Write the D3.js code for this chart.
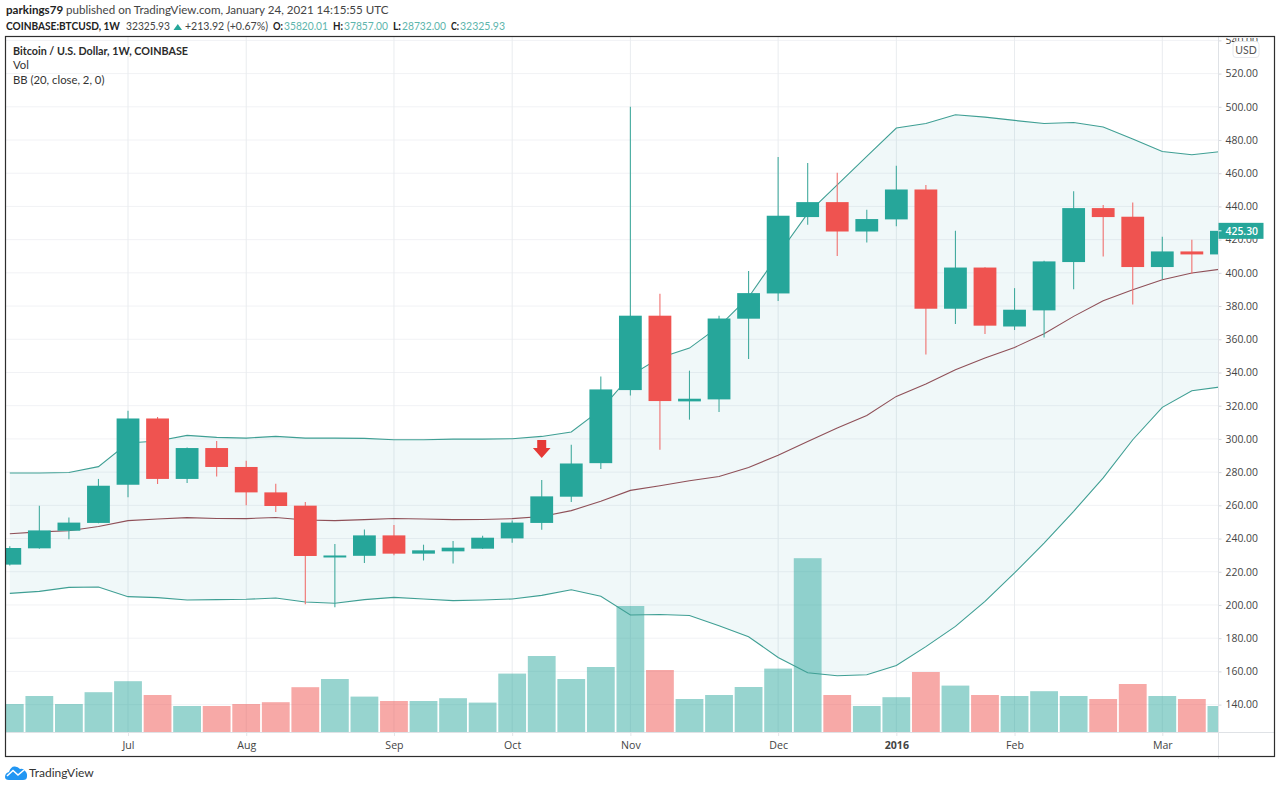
<!DOCTYPE html>
<html>
<head>
<meta charset="utf-8">
<script src="https://cdn.jsdelivr.net/npm/d3@7/dist/d3.min.js"></script>
<style>
html,body{margin:0;padding:0;background:#fff;overflow:hidden}
svg{display:block}
text{font-family:"Lato","Noto Sans",sans-serif}
.ax text{font-family:"Open Sans",sans-serif}
</style>
</head>
<body>
<svg id="c" width="1280" height="788"></svg>
<script>
const open  = [224.3,234.1,244.7,249.4,272.4,312.3,275.9,294.5,283.1,267.8,259.8,229.5,229.6,241.9,230.9,232.3,233.9,240.1,249.4,265.2,285.4,329.4,374.2,322.6,323.8,372.4,387.6,433.6,442.6,424.9,432.2,450.2,378.4,403.2,367.7,377.4,406.5,439.0,433.8,403.5,412.9,411.1];
const close = [234.3,244.9,249.6,271.8,312.3,275.9,294.5,283.1,267.8,259.6,229.5,229.8,241.9,230.9,232.9,234.5,240.5,249.6,265.4,285.2,329.8,374.2,322.8,324.2,372.5,387.8,434.4,442.6,424.9,432.4,450.2,378.4,403.2,368.2,377.8,406.9,439.0,433.6,403.5,412.9,411.1,425.3];
const high  = [235.3,259.8,252.6,275.9,317.0,313.2,294.9,298.7,286.9,273.0,262.0,236.7,245.5,248.2,236.3,238.5,241.7,250.8,275.3,296.5,337.6,500.0,387.4,341.1,374.2,401.1,469.7,466.1,460.3,438.0,464.5,452.9,425.3,403.4,390.8,407.3,449.2,440.8,442.4,421.7,419.9,425.3];
const low   = [223.8,233.8,239.5,249.2,264.8,272.8,273.4,277.4,260.0,256.0,200.4,198.6,225.3,229.9,226.8,224.9,233.7,237.5,245.3,262.0,281.9,326.2,293.5,311.6,316.2,348.1,383.0,429.0,410.1,418.3,428.0,350.9,369.2,363.2,365.6,361.1,390.2,409.9,381.0,396.3,399.5,411.1];
const volume = [14,18,14,19.9,25.4,18.5,13,13,14,14.9,22.4,26.5,17.7,15.5,15.5,16.9,14.7,29.2,38,26.5,32.5,63,31,16.5,18.5,22.5,31.7,86.9,18.5,13,17.4,30,23.2,18.5,18,20.4,18,16.5,24,18,16.5,13];
const bbUpper  = [279.5,279.5,279.8,283.3,297.5,298.7,302.1,300.9,300.5,301.5,300.5,300.5,300.3,299.5,299.5,299.9,299.9,300.1,301.5,304.2,317.6,338.1,348.9,354.7,367.8,385.3,410.9,435.8,453.0,470.2,487.2,489.9,495.2,493.8,491.8,489.9,490.5,487.8,480.6,473.1,471.1,473.1];
const bbMiddle = [242.9,244.0,244.7,247.3,250.8,251.8,252.6,252.1,252.0,252.7,251.2,250.8,251.4,252.1,251.8,251.4,251.5,252.0,253.3,256.8,262.4,269.0,271.8,274.8,277.4,282.8,290.1,298.5,306.6,314.1,325.6,333.0,341.7,348.7,355.1,363.3,373.8,383.2,389.8,395.8,399.9,402.3];
const bbLower  = [207.0,208.2,210.6,210.8,205.0,204.4,203.0,203.2,203.4,204.2,201.8,201.0,203.2,204.6,203.6,202.6,203.0,203.6,205.8,209.2,205.2,194.0,194.3,193.7,187.5,180.9,168.4,159.2,157.4,158.0,163.5,174.9,187.1,202.2,219.3,237.3,256.4,276.5,299.5,319.0,329.0,331.4];
const monthIdx = [4,8,13,17,21,26,30,34,39];
const monthLabels = ["Jul","Aug","Sep","Oct","Nov","Dec","2016","Feb","Mar"];
const priceTicks = d3.range(140,541,20);
const lastPrice = 425.30;
const signalIdx = 18, signalPrice = 299;
const headerTexts = ["COINBASE:BTCUSD, 1W","32325.93","+213.92 (+0.67%)","O:","35820.01","H:","37857.00","L:","28732.00","C:","32325.93"];

const TEAL="#26a69a", RED="#ef5350";
const L=6, R=1218.5, T=37, B=732, FR=1274.5, FB=756.5;
const idx = d3.range(open.length);
const x = d3.scaleLinear().domain([0,41]).range([9.8,1221.4]);
const y = d3.scaleLinear().domain([140,500]).range([704.6,106.8]);
const yV = d3.scaleLinear().domain([0,90]).range([B,B-180]);

const svg = d3.select("#c");
const defs = svg.append("defs");
defs.append("clipPath").attr("id","plot").append("rect").attr("x",L).attr("y",T).attr("width",R-L).attr("height",B-T);
defs.append("clipPath").attr("id","axis").append("rect").attr("x",R).attr("y",T+1).attr("width",FR-R).attr("height",FB-T);

const plot = svg.append("g").attr("clip-path","url(#plot)");
// grid
plot.append("g").selectAll("line").data(priceTicks).join("line")
  .attr("x1",L).attr("x2",R).attr("y1",d=>y(d)).attr("y2",d=>y(d)).attr("stroke","#f1f2f5");
plot.append("g").selectAll("line").data(monthIdx).join("line")
  .attr("x1",d=>x(d)).attr("x2",d=>x(d)).attr("y1",T).attr("y2",B).attr("stroke","#e9ecef");
// band
plot.append("path").datum(idx).attr("fill","#2394a0").attr("fill-opacity",0.065)
  .attr("d",d3.area().x(i=>x(i)).y0(i=>y(bbLower[i])).y1(i=>y(bbUpper[i])));
// volume
plot.append("g").selectAll("rect").data(idx).join("rect")
  .attr("x",i=>x(i)-13.9).attr("width",27.8)
  .attr("y",i=>yV(volume[i])).attr("height",i=>B-yV(volume[i]))
  .attr("fill",i=>close[i]>=open[i]?TEAL:RED).attr("fill-opacity",i=>close[i]>=open[i]?0.48:0.5);
// bands lines
const ln = a=>d3.line().x(i=>x(i)).y(i=>y(a[i]));
plot.append("path").datum(idx).attr("d",ln(bbUpper)).attr("fill","none").attr("stroke","#3f9f94").attr("stroke-width",1.1);
plot.append("path").datum(idx).attr("d",ln(bbLower)).attr("fill","none").attr("stroke","#3f9f94").attr("stroke-width",1.1);
plot.append("path").datum(idx).attr("d",ln(bbMiddle)).attr("fill","none").attr("stroke","#8f5058").attr("stroke-width",1.1);
// candles
plot.append("g").selectAll("line").data(idx).join("line")
  .attr("x1",i=>x(i)).attr("x2",i=>x(i)).attr("y1",i=>y(high[i])).attr("y2",i=>y(low[i]))
  .attr("stroke",i=>close[i]>=open[i]?"#43ab9f":"#f0716f").attr("stroke-width",1.1);
plot.append("g").selectAll("rect").data(idx).join("rect")
  .attr("x",i=>x(i)-11.4).attr("width",22.8)
  .attr("y",i=>Math.min(y(open[i]),y(close[i])))
  .attr("height",i=>Math.max(2,Math.abs(y(open[i])-y(close[i]))))
  .attr("fill",i=>close[i]>=open[i]?TEAL:RED);
// signal arrow
plot.append("path").attr("transform",`translate(${x(signalIdx)},${y(signalPrice)})`)
  .attr("fill","#e53935").attr("d",d3.line()([[-4.5,-0.5],[4.5,-0.5],[4.5,7.5],[8.8,7.5],[0,17.5],[-8.8,7.5],[-4.5,7.5]])+"Z");

// price axis
const axisY = svg.append("g").attr("class","ax").attr("clip-path","url(#axis)");
const yAxis = d3.axisRight(y).tickValues(priceTicks).tickFormat(d3.format(".2f")).tickSize(3).tickPadding(4);
axisY.append("g").attr("transform",`translate(${R},0)`).call(yAxis)
  .call(g=>g.select(".domain").remove())
  .call(g=>g.selectAll("line").attr("stroke","#d5d8de"))
  .call(g=>g.selectAll("text").attr("font-size",10.4).attr("fill","#444"));
svg.append("line").attr("x1",R).attr("x2",R).attr("y1",T).attr("y2",759).attr("stroke","#dfe2e6");
svg.append("line").attr("x1",L).attr("x2",FR).attr("y1",B+.5).attr("y2",B+.5).attr("stroke","#dfe2e6");

// time axis
const xAxis = d3.axisBottom(x).tickValues(monthIdx).tickFormat((d,i)=>monthLabels[i]).tickSize(4).tickPadding(5);
svg.append("g").attr("class","ax").attr("transform",`translate(0,${B})`).call(xAxis)
  .call(g=>g.select(".domain").remove())
  .call(g=>g.selectAll("line").attr("stroke","#e3e5e9"))
  .call(g=>g.selectAll("text").attr("font-size",10.6).attr("fill","#444")
     .attr("font-weight",(d,i)=>monthLabels[i]==="2016"?700:400));

// last price tag
const tagY=y(lastPrice);
svg.append("rect").attr("x",R).attr("y",tagY-8).attr("width",45).attr("height",16).attr("fill",TEAL);
svg.append("line").attr("x1",R).attr("x2",R+3).attr("y1",tagY).attr("y2",tagY).attr("stroke","#fff");
svg.append("text").attr("x",R+7).attr("y",tagY+3.8).attr("font-size",10.4).attr("font-weight",600).attr("fill","#fff").style("font-family","'Open Sans',sans-serif").text(lastPrice.toFixed(2));
// USD
svg.append("rect").attr("x",1233).attr("y",41.5).attr("width",26).attr("height",16).attr("rx",3).attr("fill","#fff").attr("stroke","#e6e8ec");
svg.append("text").attr("x",1246).attr("y",53.5).attr("text-anchor","middle").attr("font-size",10.5).attr("fill","#555").text("USD");

// frame
svg.append("rect").attr("x",5.5).attr("y",36.5).attr("width",FR-5.5).attr("height",FB-36.5).attr("fill","none").attr("stroke","#2e2e2e").attr("stroke-width",1.2);

// legend
svg.append("text").attr("x",13).attr("y",55).attr("font-size",11.3).attr("font-weight",700).attr("fill","#2b2b2b")
  .attr("textLength",175).attr("lengthAdjust","spacingAndGlyphs").text("Bitcoin / U.S. Dollar, 1W, COINBASE");
svg.append("text").attr("x",13).attr("y",69).attr("font-size",11.3).attr("fill","#333").text("Vol");
svg.append("text").attr("x",13).attr("y",84).attr("font-size",11.3).attr("fill","#333").text("BB (20, close, 2, 0)");

// header
const h1 = svg.append("text").attr("x",6).attr("y",14).attr("font-size",11.6).attr("fill","#444");
h1.append("tspan").attr("font-weight",700).attr("fill","#222").text("parkings79");
h1.append("tspan").text(" published on TradingView.com, January 24, 2021 14:15:55 UTC");
const headerLayout = [
 {x:6,w:114,b:1,c:"#222"},{x:126,w:44,b:0,c:"#444"},{x:185,w:83,b:0,c:"#444"},
 {x:273,w:10,b:1,c:"#222"},{x:284,w:44,b:0,c:"#5db5ac"},{x:333,w:10,b:1,c:"#222"},{x:344,w:44,b:0,c:"#5db5ac"},
 {x:393,w:8,b:1,c:"#222"},{x:402,w:44,b:0,c:"#5db5ac"},{x:451,w:8,b:1,c:"#222"},{x:460,w:45,b:0,c:"#5db5ac"}];
svg.append("g").selectAll("text").data(headerTexts).join("text")
  .attr("x",(d,i)=>headerLayout[i].x).attr("y",30).attr("font-size",11.5)
  .attr("font-weight",(d,i)=>headerLayout[i].b?700:400).attr("fill",(d,i)=>headerLayout[i].c)
  .attr("textLength",(d,i)=>headerLayout[i].w).attr("lengthAdjust","spacingAndGlyphs").text(d=>d);
svg.append("path").attr("d","M173.5 30L177.8 24L182 30Z").attr("fill",TEAL);

// logo
svg.append("path").attr("fill","#2196f3")
 .attr("d","M5 777 Q5 773 9 772 Q11 766 15 766.5 Q18 766.5 20 769 Q23 768 25 771 Q27.5 773 27 776.5 Q27 780 23 780 L9 780 Q5 780 5 777Z");
svg.append("path").attr("fill","none").attr("stroke","#fff").attr("stroke-width",1.6)
 .attr("d","M7 776 L13 770.5 L18 775 L24 770");
svg.append("text").attr("x",29).attr("y",777).attr("font-size",12).attr("fill","#333").text("TradingView");
</script>
</body>
</html>
